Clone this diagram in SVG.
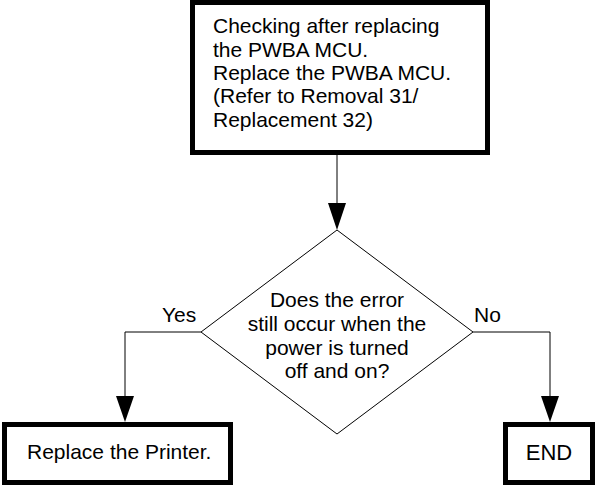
<svg xmlns="http://www.w3.org/2000/svg" width="596" height="486" viewBox="0 0 596 486">
<defs>
<style>
.box{fill:#fff;stroke:#000;stroke-width:5}
.dia{fill:#fff;stroke:#000;stroke-width:1}
.ln{fill:none;stroke:#000;stroke-width:1}
.ah{fill:#000}
text{font-family:"Liberation Sans",Arial,sans-serif;font-size:21px;fill:#000}
</style>
</defs>
<g id="connectors">
<line class="ln" x1="337" y1="155" x2="337" y2="204"/>
<path class="ah" d="M328,203 L346,203 L337,230 Z"/>
<polyline class="ln" points="201,332 125,332 125,397"/>
<path class="ah" d="M116,396 L134,396 L125,422 Z"/>
<polyline class="ln" points="473,332 550,332 550,397"/>
<path class="ah" d="M541,396 L559,396 L550,422 Z"/>
<text x="162" y="322">Yes</text>
<text x="474" y="322">No</text>
</g>
<g id="n1">
<rect class="box" x="192.5" y="2.5" width="295" height="150"/>
<text x="213" y="33">Checking after replacing</text>
<text x="213" y="57">the PWBA MCU.</text>
<text x="213" y="80">Replace the PWBA MCU.</text>
<text x="213" y="103">(Refer to Removal 31/</text>
<text x="213" y="127">Replacement 32)</text>
</g>
<g id="n2">
<polygon class="dia" points="337,230 473,332 337,434 201,332"/>
<text x="337" y="307" text-anchor="middle">Does the error</text>
<text x="337" y="331" text-anchor="middle">still occur when the</text>
<text x="337" y="355" text-anchor="middle">power is turned</text>
<text x="337" y="378" text-anchor="middle">off and on?</text>
</g>
<g id="n3">
<rect class="box" x="4.5" y="424.5" width="226" height="58"/>
<text x="27" y="459">Replace the Printer.</text>
</g>
<g id="n4">
<rect class="box" x="505.5" y="424.5" width="87" height="58"/>
<text x="549" y="460" text-anchor="middle" style="font-size:22px">END</text>
</g>
</svg>
